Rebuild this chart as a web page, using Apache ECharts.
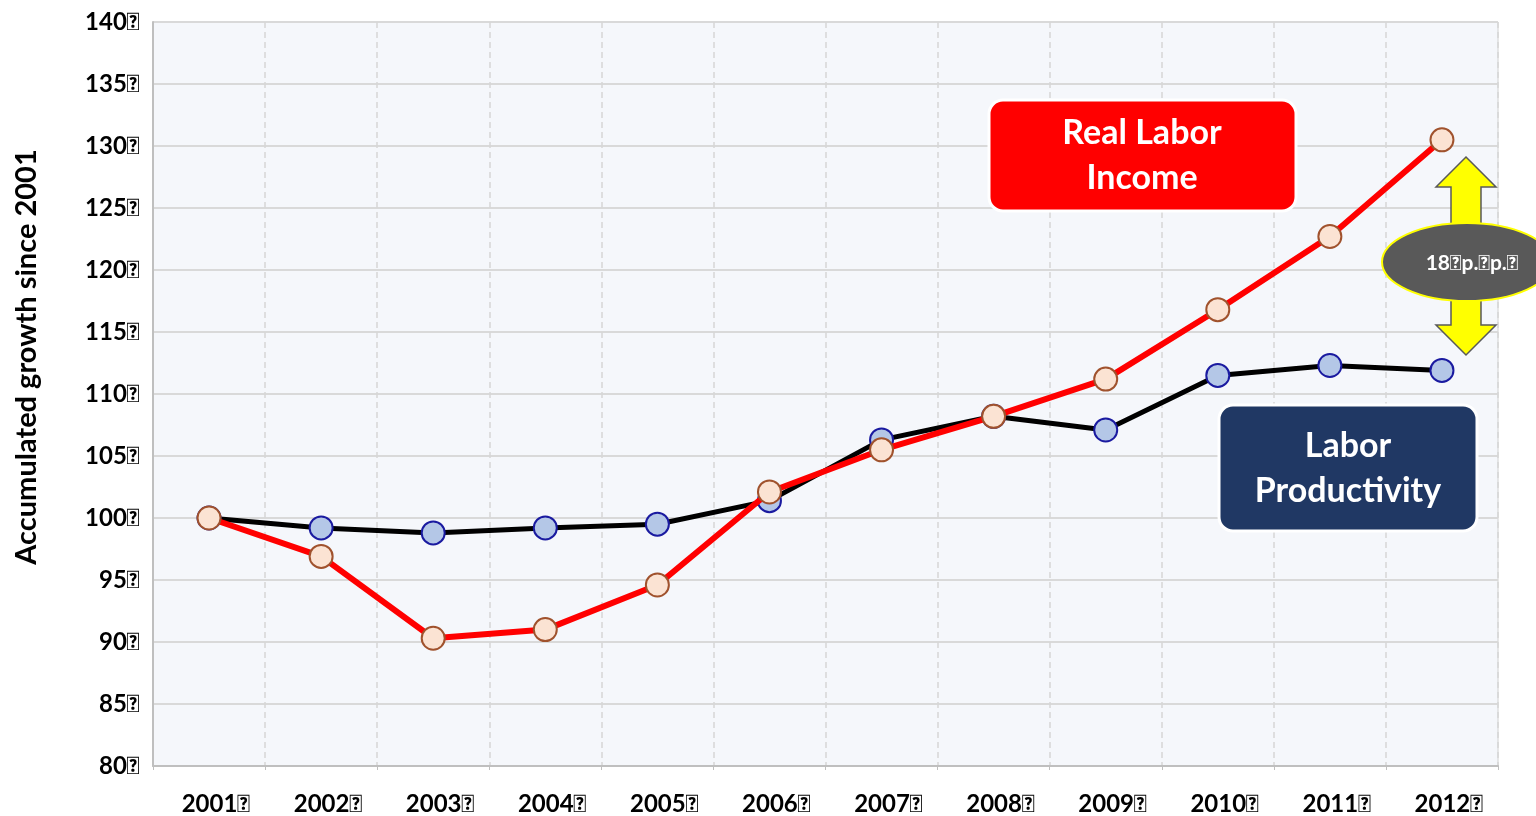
<!DOCTYPE html>
<html><head><meta charset="utf-8">
<script src="https://cdn.jsdelivr.net/npm/echarts@6/dist/echarts.min.js"></script>
<style>html,body{margin:0;padding:0;background:#fff}#c{width:1536px;height:816px}</style>
</head><body><div id="c"></div>
<script>
const TOFU = '\uE000';
const years = ['2001','2002','2003','2004','2005','2006','2007','2008','2009','2010','2011','2012'];
const realLaborIncome = [100, 96.9, 90.3, 91.0, 94.6, 102.1, 105.5, 108.2, 111.2, 116.8, 122.7, 130.5];
const laborProductivity = [100, 99.2, 98.8, 99.2, 99.5, 101.4, 106.3, 108.2, 107.1, 111.5, 112.3, 111.9];
const yTicks = [80, 85, 90, 95, 100, 105, 110, 115, 120, 125, 130, 135, 140];
const axisTitle = 'Accumulated growth since 2001';
const boxRed = 'Real Labor\nIncome';
const boxBlue = 'Labor\nProductivity';
const gapLabel = '18' + TOFU + 'p.' + TOFU + 'p.' + TOFU;

const FONT = 'Lato, "Open Sans", sans-serif';
const chart = echarts.init(document.getElementById('c'));

// double arrow polygon
const arrX = 1466, arrTop = 157, arrBot = 355, headH = 30, headW = 30, shaftW = 15;
const arrowPts = [
  [arrX, arrTop], [arrX + headW, arrTop + headH], [arrX + shaftW, arrTop + headH],
  [arrX + shaftW, arrBot - headH], [arrX + headW, arrBot - headH], [arrX, arrBot],
  [arrX - headW, arrBot - headH], [arrX - shaftW, arrBot - headH], [arrX - shaftW, arrTop + headH],
  [arrX - headW, arrTop + headH]
];

chart.setOption({
  animation: false,
  backgroundColor: '#fff',
  grid: { left: 153, right: 38, top: 22, bottom: 49, show: true,
    backgroundColor: '#f5f7fb', borderColor: '#d0d0d0', borderWidth: 1 },
  xAxis: {
    type: 'category', data: years, boundaryGap: true,
    axisLine: { lineStyle: { color: '#bfbfbf', width: 2 } },
    axisTick: { show: true, alignWithLabel: false, length: 4, lineStyle: { color: '#bfbfbf' } },
    splitLine: { show: true, lineStyle: { color: '#d6d6d6', type: [6, 4], width: 1.5 } },
    axisLabel: { formatter: v => v + TOFU, margin: 26, fontFamily: FONT, fontWeight: 'bold',
      fontSize: 24, color: '#000', padding: [0, 0, 0, 14], interval: 0 }
  },
  yAxis: {
    type: 'value', min: 80, max: 140, interval: 5,
    name: axisTitle, nameLocation: 'middle', nameGap: 112, nameRotate: 90,
    nameTextStyle: { fontFamily: FONT, fontWeight: 'bold', fontSize: 29, color: '#000',
      padding: [0, 0, 0, 74] },
    axisLine: { show: true, lineStyle: { color: '#bfbfbf', width: 2 } },
    axisTick: { show: false },
    splitLine: { lineStyle: { color: '#d9d9d9', width: 2 } },
    axisLabel: { formatter: v => yTicks.includes(v) ? v + TOFU : '', margin: 13,
      fontFamily: FONT, fontWeight: 'bold', fontSize: 24, color: '#000' }
  },
  series: [
    { name: 'Labor Productivity', type: 'line', data: laborProductivity, z: 2,
      symbol: 'circle', symbolSize: 23,
      lineStyle: { color: '#000', width: 5 },
      itemStyle: { color: '#b4c7e7', borderColor: '#1a1aa0', borderWidth: 2 } },
    { name: 'Real Labor Income', type: 'line', data: realLaborIncome, z: 3,
      symbol: 'circle', symbolSize: 23,
      lineStyle: { color: '#ff0000', width: 6 },
      itemStyle: { color: '#fbe3d3', borderColor: '#a0522d', borderWidth: 2 } }
  ],
  graphic: [
    { type: 'rect', shape: { x: 989, y: 100, width: 307, height: 111, r: 14 }, z: 10,
      style: { fill: '#ff0000', stroke: '#fff', lineWidth: 3 } },
    { type: 'text', x: 1142, y: 156, z: 11,
      style: { text: boxRed, fill: '#fff', font: 'bold 34px ' + FONT, align: 'center',
        verticalAlign: 'middle', lineHeight: 45 } },
    { type: 'rect', shape: { x: 1219, y: 405, width: 258, height: 126, r: 14 }, z: 10,
      style: { fill: '#203864', stroke: '#fff', lineWidth: 3 } },
    { type: 'text', x: 1348, y: 469, z: 11,
      style: { text: boxBlue, fill: '#fff', font: 'bold 34px ' + FONT, align: 'center',
        verticalAlign: 'middle', lineHeight: 45 } },
    { type: 'polygon', shape: { points: arrowPts }, z: 10,
      style: { fill: '#ffff00', stroke: '#595959', lineWidth: 1.5 } },
    { type: 'ellipse', shape: { cx: 1467, cy: 262, rx: 85, ry: 39 }, z: 12,
      style: { fill: '#595959', stroke: '#ffff00', lineWidth: 2 } },
    { type: 'text', x: 1472, y: 263, z: 13,
      style: { text: gapLabel, fill: '#fff', font: 'bold 21px ' + FONT, align: 'center',
        verticalAlign: 'middle' } }
  ]
});
</script></body></html>
